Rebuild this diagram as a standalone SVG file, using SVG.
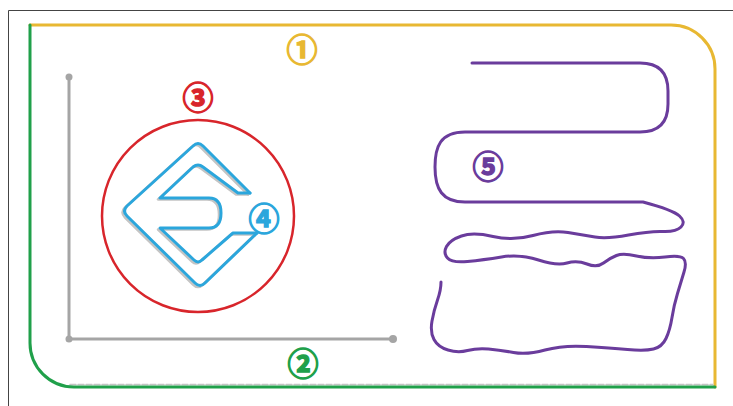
<svg xmlns="http://www.w3.org/2000/svg" width="733" height="406" viewBox="0 0 733 406">
<style>
.ln{fill:none;stroke-linecap:round;stroke-linejoin:round}
.lbl{font-family:"Noto Sans CJK JP","Noto Sans CJK SC",sans-serif;font-weight:700;font-size:31px;text-anchor:middle;dominant-baseline:central;stroke-width:1.3;paint-order:stroke}
.sh{fill:none;stroke:#c4c4c4;stroke-linecap:round;stroke-linejoin:round}
</style>
<rect width="733" height="406" fill="#ffffff"/>
<g id="frame">
<path d="M8.5 406 V10.5 H733" fill="none" stroke="#444" stroke-width="1"/>
</g>
<g id="connectors">
<path id="edge1" class="ln" d="M30 25 H671 A44 44 0 0 1 715 69 V387" stroke="#e8b832" stroke-width="3"/>
<path class="sh" d="M70 384.5 H713" stroke-width="1.5" stroke-dasharray="6 2"/>
<path id="edge2" class="ln" d="M30 25 V343 A44 44 0 0 0 74 387 H715" stroke="#20a04a" stroke-width="3"/>
<g id="axes">
<path class="ln" d="M69 77 V339 H393" stroke="#a5a5a5" stroke-width="3"/>
<circle cx="69" cy="77" r="3.5" fill="#a5a5a5"/>
<circle cx="69" cy="339" r="3.5" fill="#a5a5a5"/>
<circle cx="393" cy="339" r="4" fill="#a5a5a5"/>
</g>
<path id="edge5" class="ln" stroke="#6a3c9c" stroke-width="3" d="M472 63 H640 Q668 63 668 91 V104 Q668 132 640 132 H465 C440 132 435 147 435 167 C435 189 442 202 465 202 H643 Q673 210 679.5 216 Q686 222 681 227 Q676 232 663 231.5 Q650 231 628.5 235 Q607 239 595 237 Q583 235 568 232.5 Q553 230 533 235.5 Q513 241 493 236.5 Q473 232 461.5 236 Q450 240 446.5 246.5 Q443 253 447.5 258 Q452 263 467.5 261.5 Q483 260 501.5 257 Q520 254 538.5 260 Q557 266 567 263 Q577 260 587 264 Q597 268 603.5 263 Q610 258 616.5 255.5 Q623 253 636.5 256 Q650 259 665 257 Q680 255 683.5 258.5 Q687 262 684 272 Q681 282 677.5 293.5 Q674 305 672 317.5 Q670 330 666 338.5 Q662 347 653.5 349 Q645 351 627.5 349.5 Q610 348 586.5 346.5 Q563 345 545 350 Q527 355 513.5 352.5 Q500 350 488.5 349 Q477 348 467.5 350.5 Q458 353 448 350 Q438 347 434 339.5 Q430 332 432 321 Q434 310 437.5 300 Q441 290 441 282"/>
</g>
<g id="node3">
<circle cx="198" cy="216" r="96" fill="none" stroke="#d8252b" stroke-width="2.5"/>
</g>
<g id="node4">
<g transform="translate(-2 1.5)">
<path class="sh" stroke-width="2.5" d="M250 193 L203 146 Q198 141 193 146 L127 206 Q122 211 127 216 L195 283 Q200 288 205 283 L257 233"/>
<path class="sh" stroke-width="2.5" d="M250 193 H238 L203 167 Q198 163 193 167 L160 198 H209 Q221 198 221 213 Q221 228 209 228 H160 L194 260 Q198 264 202 260 L233 233 H257"/>
</g>
<path class="ln" stroke="#2ba6dc" stroke-width="3" d="M250 193 L203 146 Q198 141 193 146 L127 206 Q122 211 127 216 L195 283 Q200 288 205 283 L257 233"/>
<path class="ln" stroke="#2ba6dc" stroke-width="3" d="M250 193 H238 L203 167 Q198 163 193 167 L160 198 H209 Q221 198 221 213 Q221 228 209 228 H160 L194 260 Q198 264 202 260 L233 233 H257"/>
<circle cx="264" cy="217" r="12" fill="#ffffff"/>
</g>
<g id="labels">
<text class="lbl" x="302" y="47" fill="#e8b832" stroke="#e8b832">①</text>
<text class="lbl" x="303" y="361" fill="#20a04a" stroke="#20a04a">②</text>
<text class="lbl" x="198" y="95" fill="#d8252b" stroke="#d8252b">③</text>
<text class="lbl" x="264" y="216" fill="#2ba6dc" stroke="#2ba6dc">④</text>
<text class="lbl" x="488" y="164" fill="#6a3c9c" stroke="#6a3c9c">⑤</text>
</g>
</svg>
